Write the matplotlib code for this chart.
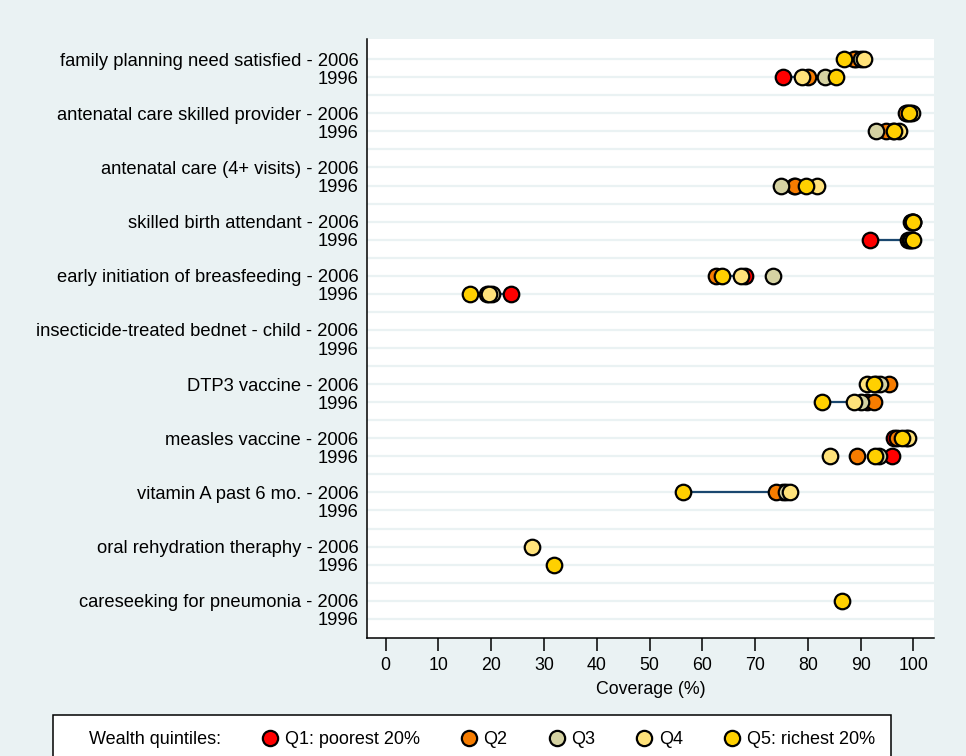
import numpy as np
import matplotlib
matplotlib.use("Agg")
from matplotlib import pyplot as plt
from matplotlib.lines import Line2D

plt.rcParams["font.family"] = ["Liberation Sans", "DejaVu Sans"]

indicators = [
    "family planning need satisfied",
    "antenatal care skilled provider",
    "antenatal care (4+ visits)",
    "skilled birth attendant",
    "early initiation of breasfeeding",
    "insecticide-treated bednet - child",
    "DTP3 vaccine",
    "measles vaccine",
    "vitamin A past 6 mo.",
    "oral rehydration theraphy",
    "careseeking for pneumonia",
]
years = ["2006", "1996"]
quintiles = ["Q1: poorest 20%", "Q2", "Q3", "Q4", "Q5: richest 20%"]
colors = ["#ff0000", "#f67c00", "#d5d2a2", "#ffe27a", "#ffd000"]

nan = np.nan
# coverage by quintile (Q1..Q5), one row per indicator
cov_2006 = np.array([
    [89.2, 88.8, 90.0, 90.7, 86.9],
    [98.8, 98.6, 99.4, 99.8, 99.2],
    [nan, nan, nan, nan, nan],
    [99.6, 99.8, 99.9, 99.9, 99.9],
    [68.0, 62.6, 73.4, 67.4, 63.8],
    [nan, nan, nan, nan, nan],
    [93.0, 95.3, 93.6, 91.2, 92.5],
    [96.4, 96.8, 98.6, 98.9, 97.8],
    [75.2, 73.9, 75.8, 76.7, 56.3],
    [nan, nan, nan, 27.7, nan],
    [nan, nan, nan, nan, 86.4],
])
cov_1996 = np.array([
    [75.2, 80.0, 83.3, 78.9, 85.4],
    [96.2, 94.8, 92.9, 97.3, 96.4],
    [77.3, 77.5, 75.0, 81.7, 79.7],
    [91.7, 98.9, 99.3, 99.6, 99.9],
    [23.8, 19.2, 20.2, 19.6, 15.9],
    [nan, nan, nan, nan, nan],
    [91.2, 92.6, 90.1, 88.7, 82.7],
    [95.9, 89.3, 93.5, 84.1, 92.8],
    [nan, nan, nan, nan, nan],
    [nan, nan, nan, nan, 31.8],
    [nan, nan, nan, nan, nan],
])

bg = "#eaf2f3"
fig = plt.figure(figsize=(9.66, 7.56), dpi=100, facecolor=bg)
ax = fig.add_axes([366.7 / 966, 1 - 638.3 / 756, (934 - 366.7) / 966, (638.3 - 39.3) / 756])
ax.set_facecolor("white")

n = len(indicators)
ypos, ylabels = [], []
for i, name in enumerate(indicators):
    ypos += [3 * i, 3 * i + 1]
    ylabels += [f"{name} - {years[0]}", years[1]]
    if i < n - 1:
        ypos.append(3 * i + 2)
        ylabels.append("")

for i in range(n):
    for j, data in enumerate([cov_2006, cov_1996]):
        y = 3 * i + j
        row = data[i]
        if not np.isnan(row[0]) and not np.isnan(row[4]):
            ax.plot([row[0], row[4]], [y, y], color="#1a476f", lw=1.6, zorder=2)
        for q in range(5):
            if not np.isnan(row[q]):
                ax.scatter(row[q], y, s=125, color=colors[q], edgecolors="black",
                           linewidths=1.6, zorder=3 + q)

ax.set_xlim(-3.6, 103.9)
ax.set_ylim(32.08, -1.1)
ax.set_xticks(range(0, 101, 10))
ax.set_yticks(ypos)
ax.set_yticklabels(ylabels, fontsize=13.2)
ax.tick_params(axis="y", length=0, pad=6)
ax.tick_params(axis="x", length=9.5, width=1.1, labelsize=12.8, pad=4)
ax.grid(axis="y", color=bg, lw=1.6, zorder=0)
ax.set_axisbelow(True)
for s in ["top", "right"]:
    ax.spines[s].set_visible(False)
for s in ["left", "bottom"]:
    ax.spines[s].set_linewidth(1.1)
ax.set_xlabel("Coverage (%)", fontsize=12.8, labelpad=5)

handles = [Line2D([], [], linestyle="none", marker="none")]
labels = ["Wealth quintiles:"]
for q in range(5):
    handles.append(Line2D([], [], linestyle="none", marker="o", markersize=11,
                          markerfacecolor=colors[q], markeredgecolor="black", markeredgewidth=1.6))
    labels.append(quintiles[q])
leg = fig.legend(handles, labels, ncol=6, loc="center", mode="expand",
                 bbox_to_anchor=(53 / 966, -0.012, 838 / 966, 42 / 756 + 0.012),
                 fontsize=13, frameon=True, fancybox=False, handlelength=0.6,
                 handletextpad=0.5, columnspacing=1.0, borderaxespad=0, borderpad=0.9,
                 framealpha=1)
leg.get_frame().set_edgecolor("black")
leg.get_frame().set_facecolor("white")
leg.get_frame().set_linewidth(1.1)

fig.savefig("out.png", dpi=100, facecolor=bg)
